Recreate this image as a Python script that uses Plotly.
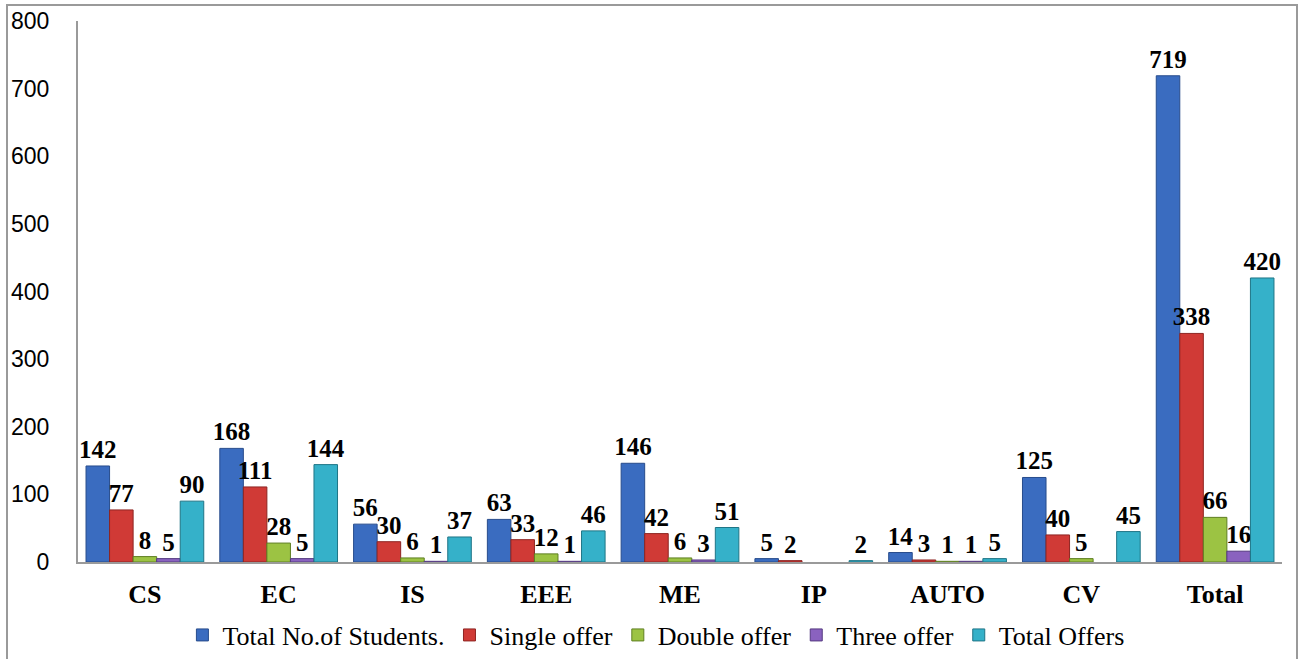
import plotly.graph_objects as go

categories = ["CS", "EC", "IS", "EEE", "ME", "IP", "AUTO", "CV", "Total"]
total_students = [142, 168, 56, 63, 146, 5, 14, 125, 719]
single_offer = [77, 111, 30, 33, 42, 2, 3, 40, 338]
double_offer = [8, 28, 6, 12, 6, None, 1, 5, 66]
three_offer = [5, 5, 1, 1, 3, None, 1, None, 16]
total_offers = [90, 144, 37, 46, 51, 2, 5, 45, 420]

series = [
    ("Total No.of Students.", total_students, "#3A6CC0", "#274C8C"),
    ("Single offer", single_offer, "#D03A36", "#8E2522"),
    ("Double offer", double_offer, "#9CC343", "#5F7F22"),
    ("Three offer", three_offer, "#8A62BF", "#553A80"),
    ("Total Offers", total_offers, "#35B1C9", "#1F7586"),
]

fig = go.Figure()
for name, vals, col, edge in series:
    fig.add_trace(go.Bar(
        name=name, x=categories, y=vals,
        marker=dict(color=col, line=dict(color=edge, width=1)),
        text=[("" if v is None else str(v)) for v in vals],
        textposition="outside",
        constraintext="none",
        cliponaxis=False,
        textfont=dict(family="Liberation Serif", size=25, color="black", weight="bold"),
    ))

fig.update_layout(
    width=1299, height=659,
    barmode="group", bargap=0.12, bargroupgap=0,
    plot_bgcolor="white", paper_bgcolor="white",
    margin=dict(l=78, r=17, t=21, b=97, autoexpand=False),
    showlegend=True,
    legend=dict(orientation="h", x=0.48, xanchor="center", y=-0.135, yanchor="middle",
                font=dict(family="Liberation Serif", size=26, color="black"),
                itemwidth=30, tracegroupgap=0),
    xaxis=dict(showgrid=False, showline=True, linecolor="#9A9A9A", linewidth=2, automargin=False,
               ticks="", tickfont=dict(family="Liberation Serif", size=26, color="black", weight="bold"),
               ticklabelstandoff=8),
    yaxis=dict(range=[0, 800], dtick=100, showgrid=False, showline=True, linecolor="#9A9A9A",
               linewidth=2, ticks="", zeroline=False, automargin=False,
               tickfont=dict(family="Liberation Sans", size=23, color="black"),
               ticklabelstandoff=22),
    shapes=[dict(type="rect", xref="paper", yref="paper",
                 x0=(7 - 78) / 1204, x1=(1297 - 78) / 1204,
                 y0=(562 - 700) / 541, y1=(562 - 5) / 541,
                 line=dict(color="#9A9A9A", width=2), fillcolor="rgba(0,0,0,0)", layer="below")],
)

fig.write_html("out.html", config={"displayModeBar": False},
               post_script="document.body.style.margin='0';document.body.style.overflow='hidden';")
